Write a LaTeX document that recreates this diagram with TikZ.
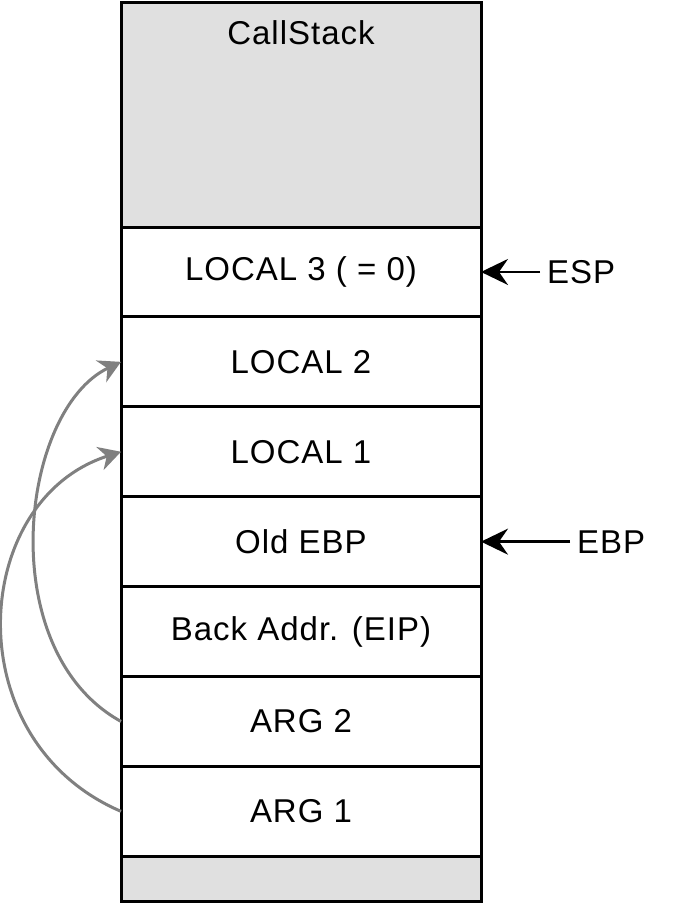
\documentclass[tikz,border=0pt]{standalone}
\usepackage{fontspec}
\setmainfont{Liberation Sans}[LetterSpace=3]
\usetikzlibrary{arrows.meta,positioning}
\definecolor{stackgray}{RGB}{224,224,224}
\definecolor{linkgray}{RGB}{128,128,128}

\begin{document}
\begin{tikzpicture}[x=1pt, y=-1pt, node distance=0pt,
    cell/.style={draw, line width=3pt, minimum width=360pt, minimum height=89.9pt,
      inner sep=0pt, outer sep=0pt, font=\fontsize{33}{38}\selectfont},
    tag/.style={inner sep=7pt, font=\fontsize{33}{38}\selectfont},
    ptr/.style={-{Stealth[length=27pt, width=26pt, inset=9pt]}, line width=2.5pt},
    link/.style={-{Stealth[length=22pt, width=24pt, inset=7pt]}, line width=3pt, linkgray}]
    \useasboundingbox (0,0) rectangle (696,906);

    % the stack, top to bottom
    \node[cell, fill=stackgray, minimum height=225pt] (head) at (301,114.5) {};
    \node[font=\fontsize{33}{38}\selectfont, anchor=north] (title) at ([yshift=-15pt]head.north) {CallStack};
    \node[cell, below=of head] (local3) {LOCAL 3 ( = 0)};
    \node[cell, below=of local3] (local2) {LOCAL 2};
    \node[cell, below=of local2] (local1) {LOCAL 1};
    \node[cell, below=of local1] (oldebp) {Old EBP};
    \node[cell, below=of oldebp] (eip) {Back Addr. (EIP)};
    \node[cell, below=of eip] (arg2) {ARG 2};
    \node[cell, below=of arg2] (arg1) {ARG 1};
    \node[cell, fill=stackgray, minimum height=45pt, below=of arg1] (foot) {};

    % registers
    \node[tag, right=59pt of local3] (esp) {ESP};
    \node[tag, right=89pt of oldebp] (ebp) {EBP};
    \draw[ptr] (esp) -- (local3);
    \draw[ptr] (ebp) -- (oldebp);

    % arguments copied to locals
    \draw[link] (arg2.west) .. controls (-8,650) and (20,410) .. (local2.west);
    \draw[link] (arg1.west) .. controls (-45,740) and (-30,500) .. (local1.west);
\end{tikzpicture}
\end{document}
